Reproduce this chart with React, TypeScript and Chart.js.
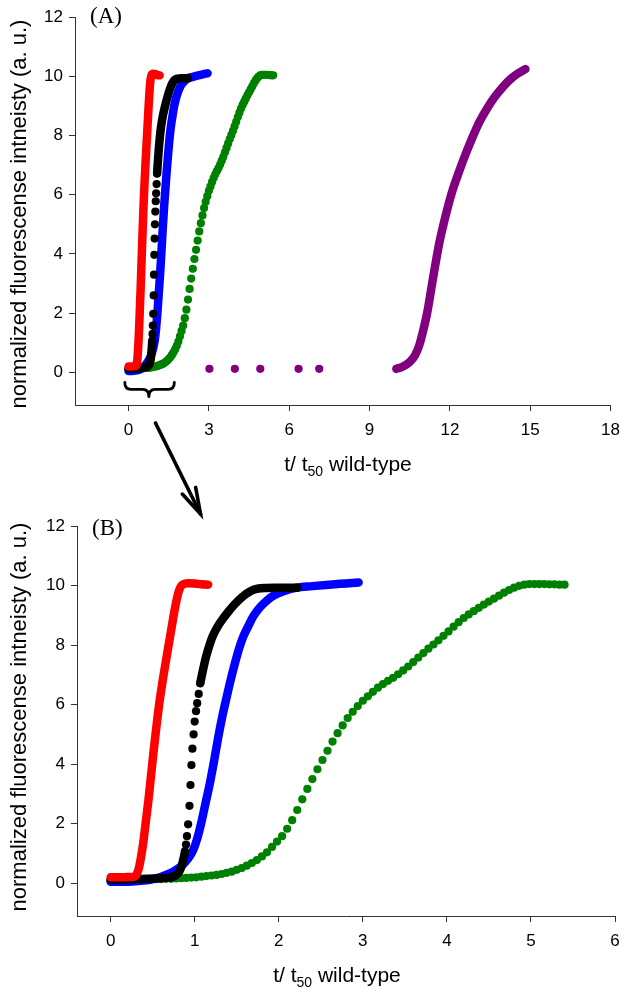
import React, { useEffect, useRef } from 'react';
import { Chart, registerables } from 'chart.js';

Chart.register(...registerables);

// ---------- tick values ----------
const X_TICKS_A = [0, 3, 6, 9, 12, 15, 18];
const X_TICKS_B = [0, 1, 2, 3, 4, 5, 6];
const Y_TICKS = [0, 2, 4, 6, 8, 10, 12];

// ---------- text ----------
const Y_TITLE = 'normalized fluorescense intneisty (a. u.)';
const X_TITLE_PARTS = ['t/ t', '50', ' wild-type'];

// ---------- series: red ----------
const redX = [0.0, 0.1, 0.2, 0.27, 0.3, 0.33, 0.36, 0.39, 0.42, 0.45, 0.48, 0.51, 0.54, 0.57, 0.6, 0.63, 0.66, 0.69, 0.72, 0.75, 0.78, 0.81, 0.85, 0.92, 1.0, 1.08, 1.16];
const redY = [0.2, 0.2, 0.21, 0.22, 0.26, 0.45, 0.85, 1.4, 2.1, 2.8, 3.6, 4.4, 5.15, 5.85, 6.45, 7.0, 7.5, 8.0, 8.5, 9.0, 9.45, 9.8, 10.02, 10.08, 10.07, 10.04, 10.03];

// ---------- series: blue ----------
const blueX = [0.0, 0.15, 0.3, 0.45, 0.55, 0.65, 0.75, 0.85, 0.92, 0.98, 1.03, 1.08, 1.13, 1.18, 1.23, 1.28, 1.33, 1.38, 1.43, 1.48, 1.53, 1.58, 1.64, 1.7, 1.78, 1.86, 1.95, 2.05, 2.2, 2.4, 2.6, 2.8, 2.95];
const blueY = [0.05, 0.05, 0.07, 0.11, 0.17, 0.27, 0.4, 0.6, 0.82, 1.1, 1.5, 2.05, 2.7, 3.35, 4.1, 4.9, 5.62, 6.25, 6.85, 7.4, 7.9, 8.3, 8.65, 8.98, 9.28, 9.5, 9.68, 9.8, 9.92, 9.98, 10.03, 10.07, 10.1];

// ---------- series: black (continuous lower part, separate dots, continuous upper part) ----------
const blackLowX = [0.0, 0.15, 0.3, 0.45, 0.6, 0.7, 0.74, 0.78, 0.8, 0.82, 0.845, 0.861, 0.875, 0.885];
const blackLowY = [0.12, 0.13, 0.14, 0.15, 0.17, 0.19, 0.22, 0.28, 0.33, 0.41, 0.58, 0.75, 0.92, 1.08];
const blackDotX = [0.897, 0.908, 0.922, 0.938, 0.95, 0.961, 0.973, 0.987, 1.0, 1.016, 1.03, 1.048, 1.066];
const blackDotY = [1.3, 1.58, 1.98, 2.6, 3.3, 3.97, 4.52, 5.0, 5.43, 5.78, 6.05, 6.36, 6.72];
const blackHighX = [1.066, 1.085, 1.1, 1.13, 1.16, 1.2, 1.24, 1.29, 1.34, 1.4, 1.46, 1.52, 1.58, 1.64, 1.7, 1.76, 1.85, 1.95, 2.05, 2.15, 2.22];
const blackHighY = [6.72, 6.98, 7.18, 7.55, 7.85, 8.2, 8.45, 8.7, 8.9, 9.12, 9.32, 9.5, 9.65, 9.77, 9.86, 9.9, 9.92, 9.93, 9.93, 9.93, 9.93];

// ---------- series: green (individual points) ----------
const greenX = [
  0.0, 0.06, 0.12, 0.18, 0.24, 0.3, 0.36, 0.42, 0.48, 0.54, 0.6, 0.66, 0.72, 0.78, 0.84, 0.9, 0.96, 1.02, 1.08, 1.14,
  1.2, 1.26, 1.32, 1.38, 1.44, 1.5, 1.56, 1.62, 1.68, 1.74, 1.8, 1.86, 1.92, 1.98, 2.04, 2.1, 2.16, 2.22, 2.28, 2.34,
  2.4, 2.46, 2.52, 2.58, 2.64, 2.7, 2.76, 2.82, 2.88, 2.94, 3.0, 3.06, 3.12, 3.18, 3.24, 3.3, 3.36, 3.42, 3.48, 3.54,
  3.6, 3.66, 3.72, 3.78, 3.84, 3.9, 3.96, 4.02, 4.08, 4.14, 4.2, 4.26, 4.32, 4.38, 4.44, 4.5, 4.56, 4.62, 4.68, 4.74,
  4.8, 4.86, 4.92, 4.98, 5.04, 5.1, 5.16, 5.22, 5.28, 5.34, 5.4,
];
const greenY = [
  0.1, 0.1, 0.1, 0.11, 0.11, 0.12, 0.12, 0.13, 0.13, 0.14, 0.14, 0.15, 0.15, 0.16, 0.17, 0.18, 0.19, 0.2, 0.22, 0.24,
  0.26, 0.28, 0.31, 0.35, 0.39, 0.45, 0.51, 0.59, 0.68, 0.78, 0.9, 1.04, 1.22, 1.4, 1.58, 1.83, 2.12, 2.46, 2.82, 3.17,
  3.5, 3.83, 4.14, 4.45, 4.76, 5.04, 5.3, 5.55, 5.76, 5.95, 6.13, 6.28, 6.43, 6.57, 6.69, 6.8, 6.9, 7.02, 7.15, 7.28,
  7.43, 7.58, 7.73, 7.88, 8.02, 8.16, 8.31, 8.46, 8.62, 8.77, 8.91, 9.03, 9.14, 9.25, 9.36, 9.46, 9.56, 9.66, 9.76, 9.85,
  9.93, 9.99, 10.03, 10.05, 10.05, 10.05, 10.05, 10.04, 10.04, 10.03, 10.03,
];

// ---------- series: purple (panel A only) ----------
const purpleDotX = [3.02, 3.97, 4.92, 6.35, 7.12];
const purpleDotY = [0.12, 0.12, 0.12, 0.12, 0.12];
const purpleX = [10.0, 10.25, 10.5, 10.7, 10.85, 11.0, 11.15, 11.3, 11.45, 11.6, 11.75, 11.9, 12.1, 12.35, 12.6, 12.85, 13.1, 13.4, 13.7, 14.0, 14.3, 14.55, 14.82];
const purpleY = [0.12, 0.2, 0.35, 0.58, 0.9, 1.4, 2.0, 2.8, 3.6, 4.35, 4.95, 5.5, 6.15, 6.8, 7.4, 7.95, 8.45, 8.93, 9.33, 9.66, 9.93, 10.1, 10.24];

// ---------- styling ----------
const RED = '#ff0000';
const BLUE = '#0000ff';
const BLACK = '#000000';
const GREEN = '#008000';
const PURPLE = '#800080';
const AXIS = '#333333';
const FONT = 'Arial, "Liberation Sans", Helvetica, sans-serif';
const SERIF = '"Times New Roman", "Liberation Serif", Times, serif';

const W = 629;
const H_A = 497;
const H_B = 498;

function pts(xs: number[], ys: number[]) {
  return xs.map((x, i) => ({ x, y: ys[i] }));
}

function band(xs: number[], ys: number[], color: string, order: number) {
  return {
    data: pts(xs, ys),
    showLine: true,
    borderColor: color,
    backgroundColor: color,
    borderWidth: 8.5,
    pointRadius: 0,
    pointHoverRadius: 0,
    borderCapStyle: 'round',
    borderJoinStyle: 'round',
    cubicInterpolationMode: 'monotone',
    fill: false,
    order,
  };
}

function dots(xs: number[], ys: number[], color: string, order: number) {
  return {
    data: pts(xs, ys),
    showLine: false,
    pointRadius: 4.1,
    pointHoverRadius: 4.1,
    pointBackgroundColor: color,
    pointBorderColor: color,
    pointBorderWidth: 0,
    borderColor: color,
    backgroundColor: color,
    order,
  };
}

type PanelSpec = {
  label: string;
  height: number;
  xMin: number;
  xMax: number;
  xTicks: number[];
  padTop: number;
  padRight: number;
  yWidth: number;
  xHeight: number;
  xTitleCenter: number;
  yTitleCenter: number;
  labelX: number;
  labelY: number;
  withPurple: boolean;
  withBrace: boolean;
};

const PANEL_A: PanelSpec = {
  label: '(A)', height: H_A, xMin: -2, xMax: 18, xTicks: X_TICKS_A,
  padTop: 17, padRight: 16, yWidth: 75, xHeight: 92, xTitleCenter: 348, yTitleCenter: 214,
  labelX: 90, labelY: 17, withPurple: true, withBrace: true,
};
const PANEL_B: PanelSpec = {
  label: '(B)', height: H_B, xMin: -0.4, xMax: 6, xTicks: X_TICKS_B,
  padTop: 29, padRight: 14, yWidth: 77, xHeight: 79, xTitleCenter: 337, yTitleCenter: 220,
  labelX: 92, labelY: 32, withPurple: false, withBrace: false,
};

function makeAnnotPlugin(spec: PanelSpec) {
  return {
    id: 'annot' + spec.label,
    afterDraw(chart: any) {
      const ctx: CanvasRenderingContext2D = chart.ctx;
      const area = chart.chartArea;
      ctx.save();
      ctx.fillStyle = '#000';
      // y title
      ctx.font = `22px ${FONT}`;
      ctx.save();
      ctx.translate(26, spec.yTitleCenter);
      ctx.rotate(-Math.PI / 2);
      ctx.textAlign = 'center';
      ctx.textBaseline = 'alphabetic';
      ctx.fillText(Y_TITLE, 0, 0);
      ctx.restore();
      // x title with subscript
      const big = `21px ${FONT}`;
      const small = `14px ${FONT}`;
      ctx.font = big;
      const w0 = ctx.measureText(X_TITLE_PARTS[0]).width;
      const w2 = ctx.measureText(X_TITLE_PARTS[2]).width;
      ctx.font = small;
      const w1 = ctx.measureText(X_TITLE_PARTS[1]).width;
      const total = w0 + w1 + w2;
      let x = spec.xTitleCenter - total / 2;
      const base = area.bottom + 66;
      ctx.textAlign = 'left';
      ctx.textBaseline = 'alphabetic';
      ctx.font = big;
      ctx.fillText(X_TITLE_PARTS[0], x, base);
      x += w0;
      ctx.font = small;
      ctx.fillText(X_TITLE_PARTS[1], x, base + 5);
      x += w1;
      ctx.font = big;
      ctx.fillText(X_TITLE_PARTS[2], x, base);
      // panel label
      ctx.font = `23px ${SERIF}`;
      ctx.textBaseline = 'middle';
      ctx.fillText(spec.label, spec.labelX, spec.labelY);
      // brace under the early curves (panel A)
      if (spec.withBrace) {
        const xs = chart.scales.x;
        const ys = chart.scales.y;
        const px = (v: number) => xs.getPixelForValue(v);
        const py = (v: number) => ys.getPixelForValue(v);
        const x0 = px(-0.14), x1 = px(1.71), xm = px(0.76);
        const yTop = py(-0.34), yMid = py(-0.57), yTip = py(-0.82);
        ctx.strokeStyle = '#000';
        ctx.lineWidth = 2.8;
        ctx.lineCap = 'round';
        ctx.lineJoin = 'round';
        ctx.beginPath();
        ctx.moveTo(x0, yTop);
        ctx.quadraticCurveTo(x0, yMid, x0 + 6, yMid);
        ctx.lineTo(xm - 6, yMid);
        ctx.quadraticCurveTo(xm, yMid, xm, yTip);
        ctx.quadraticCurveTo(xm, yMid, xm + 6, yMid);
        ctx.lineTo(x1 - 6, yMid);
        ctx.quadraticCurveTo(x1, yMid, x1, yTop);
        ctx.stroke();
      }
      ctx.restore();
    },
  };
}

function makeConfig(spec: PanelSpec): any {
  const datasets: any[] = [
    band(redX, redY, RED, 0),
    band(blackLowX, blackLowY, BLACK, 1),
    dots(blackDotX, blackDotY, BLACK, 1),
    band(blackHighX, blackHighY, BLACK, 1),
    band(blueX, blueY, BLUE, 2),
    dots(greenX, greenY, GREEN, 3),
  ];
  if (spec.withPurple) {
    datasets.push(band(purpleX, purpleY, PURPLE, 4));
    datasets.push(dots(purpleDotX, purpleDotY, PURPLE, 4));
  }
  const tickFont = { family: FONT, size: 17 };
  return {
    type: 'scatter',
    data: { datasets },
    options: {
      animation: false,
      responsive: false,
      maintainAspectRatio: false,
      events: [],
      layout: { padding: { top: spec.padTop, right: spec.padRight, left: 0, bottom: 0 } },
      plugins: { legend: { display: false }, tooltip: { enabled: false }, title: { display: false } },
      scales: {
        x: {
          type: 'linear',
          position: 'bottom',
          min: spec.xMin,
          max: spec.xMax,
          afterBuildTicks: (scale: any) => {
            scale.ticks = spec.xTicks.map((v) => ({ value: v }));
          },
          afterFit: (scale: any) => {
            scale.height = spec.xHeight;
          },
          ticks: { color: '#000', font: tickFont, padding: 9, autoSkip: false, maxRotation: 0 },
          grid: { drawOnChartArea: false, drawTicks: true, tickLength: 6, color: AXIS, lineWidth: 1 },
          border: { display: true, color: AXIS, width: 1 },
        },
        y: {
          type: 'linear',
          position: 'left',
          min: -1.1,
          max: 12,
          afterBuildTicks: (scale: any) => {
            scale.ticks = Y_TICKS.map((v) => ({ value: v }));
          },
          afterFit: (scale: any) => {
            scale.width = spec.yWidth;
          },
          ticks: { color: '#000', font: tickFont, padding: 6 },
          grid: { drawOnChartArea: false, drawTicks: true, tickLength: 6, color: AXIS, lineWidth: 1 },
          border: { display: true, color: AXIS, width: 1 },
        },
      },
    },
    plugins: [makeAnnotPlugin(spec)],
  };
}

function Panel({ spec, top }: { spec: PanelSpec; top: number }) {
  const ref = useRef<HTMLCanvasElement | null>(null);
  useEffect(() => {
    if (!ref.current) return;
    const chart = new Chart(ref.current, makeConfig(spec));
    return () => chart.destroy();
  }, [spec]);
  return (
    <canvas
      ref={ref}
      width={W}
      height={spec.height}
      style={{ position: 'absolute', left: 0, top, width: W, height: spec.height, display: 'block' }}
    />
  );
}

export default function App() {
  // arrow from the bracketed region of (A) down to (B)
  const tail = { x: 155.5, y: 423 };
  const tip = { x: 200.5, y: 514 };
  const dx = tip.x - tail.x;
  const dy = tip.y - tail.y;
  const len = Math.hypot(dx, dy);
  const ux = -dx / len;
  const uy = -dy / len;
  const ang = (16 * Math.PI) / 180;
  const bl = 27;
  const b1 = { x: tip.x + bl * (ux * Math.cos(ang) - uy * Math.sin(ang)), y: tip.y + bl * (ux * Math.sin(ang) + uy * Math.cos(ang)) };
  const b2 = { x: tip.x + bl * (ux * Math.cos(-ang) - uy * Math.sin(-ang)), y: tip.y + bl * (ux * Math.sin(-ang) + uy * Math.cos(-ang)) };
  return (
    <div style={{ position: 'absolute', left: 0, top: 0, width: W, height: H_A + H_B, background: '#fff' }}>
      <Panel spec={PANEL_A} top={0} />
      <Panel spec={PANEL_B} top={H_A} />
      <svg
        width={W}
        height={H_A + H_B}
        style={{ position: 'absolute', left: 0, top: 0, pointerEvents: 'none' }}
      >
        <line x1={tail.x} y1={tail.y} x2={tip.x} y2={tip.y} stroke="#000" strokeWidth={3.6} strokeLinecap="round" />
        <polyline
          points={`${b1.x},${b1.y} ${tip.x},${tip.y} ${b2.x},${b2.y}`}
          fill="none"
          stroke="#000"
          strokeWidth={3.6}
          strokeLinecap="round"
          strokeLinejoin="miter"
        />
      </svg>
    </div>
  );
}
